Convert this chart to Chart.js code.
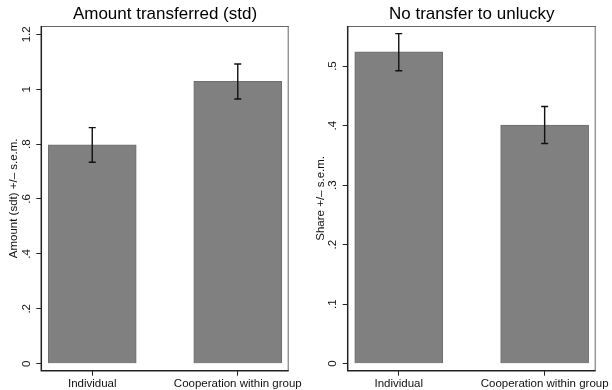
<!DOCTYPE html>
<html>
<head>
<meta charset="utf-8">
<script src="https://cdn.jsdelivr.net/npm/chart.js@4/dist/chart.umd.min.js"></script>
<style>
  body { margin: 0; background: #fff; }
  #wrap { position: relative; width: 612px; height: 390px; overflow: hidden; }
  canvas { position: absolute; top: 0; }
</style>
</head>
<body>
<div id="wrap">
  <canvas id="leftChart" width="302" height="390" style="left:0"></canvas>
  <canvas id="rightChart" width="310" height="390" style="left:302px"></canvas>
</div>
<script>
// data
const categories = ['Individual', 'Cooperation within group'];
const catPos = [1, 2];

const amountMean = [0.797, 1.029];
const amountLo = [0.734, 0.964];
const amountHi = [0.860, 1.092];
const amountTicks = [0, 0.2, 0.4, 0.6, 0.8, 1, 1.2];
const amountTickLabels = ['0', '.2', '.4', '.6', '.8', '1', '1.2'];

const shareMean = [0.524, 0.401];
const shareLo = [0.492, 0.370];
const shareHi = [0.5545, 0.432];
const shareTicks = [0, 0.1, 0.2, 0.3, 0.4, 0.5];
const shareTickLabels = ['0', '.1', '.2', '.3', '.4', '.5'];

const FONT = "'Liberation Sans', Arial, sans-serif";

// error bars, y tick labels and plot frame
const extras = {
  id: 'extras',
  afterDatasetsDraw(chart, args, opts) {
    const ctx = chart.ctx;
    const xs = chart.scales.x, ys = chart.scales.y;
    ctx.save();
    ctx.strokeStyle = '#111';
    ctx.lineWidth = 1.4;
    opts.lo.forEach((lo, i) => {
      const x = xs.getPixelForValue(catPos[i]);
      const yl = ys.getPixelForValue(lo);
      const yh = ys.getPixelForValue(opts.hi[i]);
      ctx.beginPath();
      ctx.moveTo(x, yl); ctx.lineTo(x, yh);
      ctx.moveTo(x - 3.5, yl); ctx.lineTo(x + 3.5, yl);
      ctx.moveTo(x - 3.5, yh); ctx.lineTo(x + 3.5, yh);
      ctx.stroke();
    });
    ctx.restore();
  },
  afterDraw(chart, args, opts) {
    const ctx = chart.ctx;
    const a = chart.chartArea;
    const ys = chart.scales.y;
    ctx.save();
    // frame
    ctx.lineWidth = 1;
    ctx.strokeStyle = '#666';
    ctx.beginPath();
    ctx.moveTo(a.left, a.top + 0.5); ctx.lineTo(a.right, a.top + 0.5);
    ctx.moveTo(a.right - 0.5, a.top); ctx.lineTo(a.right - 0.5, a.bottom);
    ctx.stroke();
    ctx.lineWidth = 1.5;
    ctx.strokeStyle = '#222';
    ctx.beginPath();
    ctx.moveTo(a.left, a.top); ctx.lineTo(a.left, a.bottom);
    ctx.lineTo(a.right, a.bottom);
    ctx.stroke();
    // rotated y tick labels
    ctx.fillStyle = '#111';
    ctx.font = '11.5px ' + FONT;
    ctx.textAlign = 'center';
    ctx.textBaseline = 'alphabetic';
    opts.ticks.forEach((v, i) => {
      const y = ys.getPixelForValue(v);
      ctx.save();
      ctx.translate(a.left - 16 + 4.2, y);
      ctx.rotate(-Math.PI / 2);
      ctx.fillText(opts.tickLabels[i], 0, 0);
      ctx.restore();
    });
    ctx.restore();
  }
};

const makeChart = (id, title, yTitle, means, lo, hi, ticks, tickLabels, yMin, yMax, axisW, padRight, titlePad) => {
  return new Chart(document.getElementById(id), {
    type: 'bar',
    data: {
      datasets: [{
        data: means.map((m, i) => ({ x: catPos[i], y: m })),
        backgroundColor: '#808080',
        borderColor: '#6e6e6e',
        borderWidth: 1,
        barThickness: 88
      }]
    },
    options: {
      responsive: false,
      devicePixelRatio: 1,
      animation: false,
      layout: { padding: { left: 0, right: padRight, top: 0, bottom: 0 } },
      plugins: {
        legend: { display: false },
        tooltip: { enabled: false },
        title: {
          display: true,
          text: title,
          fullSize: false,
          color: '#000',
          font: { family: FONT, size: 17, weight: 'normal', lineHeight: 1.2 },
          padding: { top: 4, bottom: 1.6 }
        },
        extras: { lo: lo, hi: hi, ticks: ticks, tickLabels: tickLabels }
      },
      scales: {
        x: {
          type: 'linear',
          min: 0.65,
          max: 2.35,
          offset: false,
          afterBuildTicks: (s) => { s.ticks = catPos.map(v => ({ value: v })); },
          afterFit: (s) => { s.height = 19.3; s.paddingLeft = 0; s.paddingRight = 0; },
          border: { display: false },
          grid: { offset: false, drawOnChartArea: false, drawTicks: true, tickLength: 5, tickColor: '#222', lineWidth: 1 },
          ticks: {
            callback: (v) => categories[catPos.indexOf(v)],
            color: '#111',
            font: { family: FONT, size: 11.5 },
            padding: 1,
            maxRotation: 0,
            autoSkip: false
          }
        },
        y: {
          type: 'linear',
          min: yMin,
          max: yMax,
          afterBuildTicks: (s) => { s.ticks = ticks.map(v => ({ value: v })); },
          afterFit: (s) => { s.width = axisW; },
          border: { display: false },
          grid: { drawOnChartArea: false, drawTicks: true, tickLength: 5, tickColor: '#222', lineWidth: 1 },
          ticks: { display: false },
          title: {
            display: true,
            text: yTitle,
            color: '#111',
            font: { family: FONT, size: 11.5, lineHeight: 1.2 },
            padding: { top: titlePad, bottom: 0 }
          }
        }
      }
    },
    plugins: [extras]
  });
};

makeChart('leftChart', 'Amount transferred (std)', 'Amount (sdt) +/– s.e.m.',
  amountMean, amountLo, amountHi, amountTicks, amountTickLabels,
  -0.0255, 1.2302, 41.3, 13.3, 7.2);

makeChart('rightChart', 'No transfer to unlucky', 'Share +/– s.e.m.',
  shareMean, shareLo, shareHi, shareTicks, shareTickLabels,
  -0.0118, 0.5673, 45.7, 16.3, 11.6);
</script>
</body>
</html>
